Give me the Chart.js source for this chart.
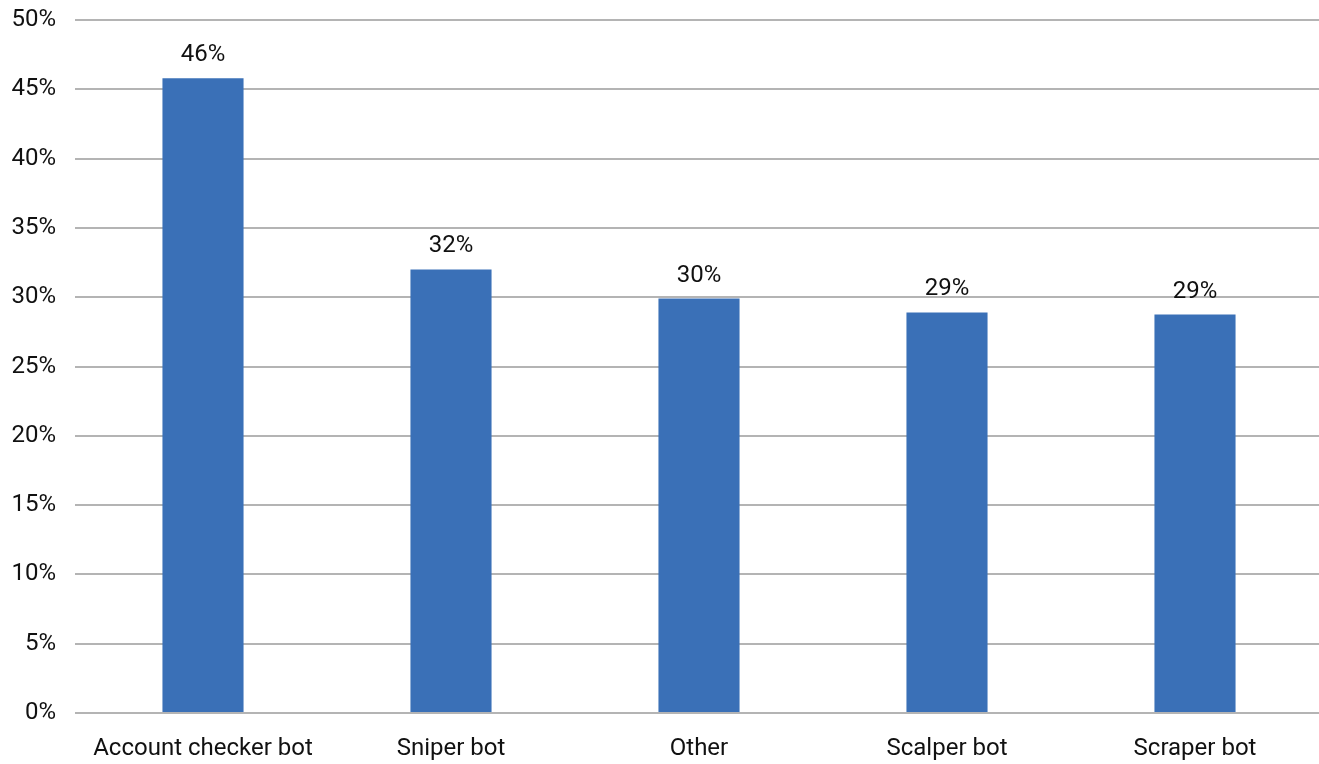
<!DOCTYPE html>
<html>
<head>
<meta charset="utf-8">
<script src="https://cdn.jsdelivr.net/npm/chart.js@4.4.1/dist/chart.umd.min.js"></script>
<style>
  html, body { margin: 0; padding: 0; background: #fff; overflow: hidden; }
  #chart { display: block; }
</style>
</head>
<body>
<canvas id="chart" width="1319" height="764"></canvas>
<script>
// Share of bot types (percent)
const categories = ['Account checker bot', 'Sniper bot', 'Other', 'Scalper bot', 'Scraper bot'];
const shares = [45.8, 32.0, 29.9, 28.9, 28.75];
const yTicks = [0, 5, 10, 15, 20, 25, 30, 35, 40, 45, 50];

const barColor = '#3a70b7';
const gridColor = '#b4b4b4';
const textColor = '#111';
const fontFamily = 'Roboto, "Noto Sans", sans-serif';
const fontSize = 24;

// Value labels drawn above each bar
const valueLabels = {
  id: 'valueLabels',
  afterDatasetsDraw(chart) {
    const ctx = chart.ctx;
    const meta = chart.getDatasetMeta(0);
    ctx.save();
    ctx.fillStyle = textColor;
    ctx.font = fontSize + 'px ' + fontFamily;
    ctx.textAlign = 'center';
    ctx.textBaseline = 'middle';
    meta.data.forEach((bar, i) => {
      ctx.fillText(Math.round(shares[i]) + '%', bar.x, bar.y - 23);
    });
    ctx.restore();
  }
};

new Chart(document.getElementById('chart'), {
  type: 'bar',
  data: {
    labels: categories,
    datasets: [{
      data: shares,
      backgroundColor: barColor,
      borderWidth: 0,
      barPercentage: 0.327,
      categoryPercentage: 1
    }]
  },
  options: {
    responsive: false,
    animation: false,
    layout: { padding: { top: 20, right: 0, left: 0, bottom: 0 } },
    plugins: {
      legend: { display: false },
      tooltip: { enabled: false }
    },
    scales: {
      x: {
        grid: { display: false },
        border: { display: false },
        ticks: {
          color: textColor,
          font: { family: fontFamily, size: fontSize },
          padding: 14,
          maxRotation: 0
        },
        afterFit(scale) { scale.height = 51; }
      },
      y: {
        min: 0,
        max: 50,
        afterBuildTicks(scale) {
          scale.ticks = yTicks.map(v => ({ value: v }));
        },
        grid: {
          color: gridColor,
          lineWidth: 2,
          tickLength: 4,
          tickColor: gridColor
        },
        border: { display: false },
        ticks: {
          color: textColor,
          font: { family: fontFamily, size: fontSize },
          padding: 19,
          callback: v => v + '%'
        },
        afterFit(scale) {
          scale.width = 79;
          // top label overflow is covered by the layout padding
          scale.paddingTop = 0;
          scale.paddingBottom = 0;
        }
      }
    }
  },
  plugins: [valueLabels]
});
</script>
</body>
</html>
